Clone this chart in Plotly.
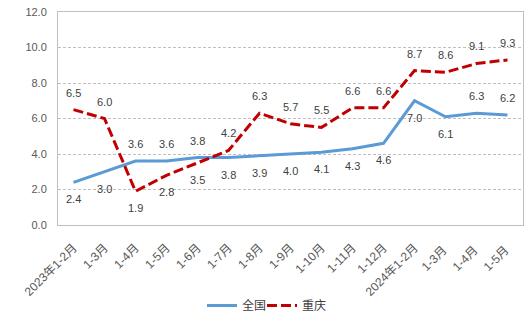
import plotly.graph_objects as go

categories = ["2023年1-2月", "1-3月", "1-4月", "1-5月", "1-6月", "1-7月", "1-8月", "1-9月",
              "1-10月", "1-11月", "1-12月", "2024年1-2月", "1-3月 ", "1-4月 ", "1-5月 "]
national = [2.4, 3.0, 3.6, 3.6, 3.8, 3.8, 3.9, 4.0, 4.1, 4.3, 4.6, 7.0, 6.1, 6.3, 6.2]
chongqing = [6.5, 6.0, 1.9, 2.8, 3.5, 4.2, 6.3, 5.7, 5.5, 6.6, 6.6, 8.7, 8.6, 9.1, 9.3]
y_ticks = [0, 2, 4, 6, 8, 10, 12]

# label placement: +1 above, -1 below
national_pos = [-1, -1, 1, 1, 1, -1, -1, -1, -1, -1, -1, -1, -1, 1, 1]
chongqing_pos = [1, 1, -1, -1, -1, 1, 1, 1, 1, 1, 1, 1, 1, 1, 1]

FONT = "Liberation Sans, Noto Sans CJK SC, sans-serif"
BLUE = "#5B9BD5"
RED = "#C00000"

fig = go.Figure()
fig.add_trace(go.Scatter(x=categories, y=national, name="全国", mode="lines",
                         line=dict(color=BLUE, width=3), legend="legend"))
fig.add_trace(go.Scatter(x=categories, y=chongqing, name="重庆", mode="lines",
                         line=dict(color=RED, width=3, dash="10px,4px"), legend="legend2"))

annotations = []
for vals, pos in ((national, national_pos), (chongqing, chongqing_pos)):
    for c, v, p in zip(categories, vals, pos):
        annotations.append(dict(x=c, y=v, xref="x", yref="y", text=f"{v:.1f}",
                                showarrow=False, yshift=17 * p,
                                font=dict(family=FONT, size=11, color="#404040")))

legend_common = dict(orientation="h", xref="container", yref="container",
                     xanchor="left", y=0.06, yanchor="middle", itemwidth=30,
                     bgcolor="rgba(0,0,0,0)",
                     font=dict(size=12, color="#404040",
                               family="Noto Sans CJK SC, sans-serif"))

fig.update_layout(
    width=532, height=325,
    margin=dict(l=58, r=9, t=12, b=100),
    paper_bgcolor="white", plot_bgcolor="white",
    font=dict(family=FONT, size=11, color="#595959"),
    annotations=annotations,
    showlegend=True,
    legend=dict(x=202 / 532, **legend_common),
    legend2=dict(x=262 / 532, **legend_common),
)
fig.update_xaxes(type="category", range=[-0.5, 14.5], showgrid=False,
                 showline=True, linecolor="#BFBFBF", linewidth=1, mirror=True,
                 tickangle=-45, ticks="", tickfont=dict(size=12, color="#595959"),
                 ticklabelstandoff=10, ticklabelshift=0, automargin=False)
fig.update_yaxes(range=[0, 12], tickvals=y_ticks, tickformat=".1f",
                 showgrid=True, gridcolor="#BFBFBF", griddash="3px,2px", gridwidth=1,
                 showline=True, linecolor="#BFBFBF", linewidth=1, mirror=True,
                 zeroline=False, ticks="", ticklabelstandoff=8,
                 tickfont=dict(size=11, color="#595959"), automargin=False)

fig.write_html("out.html")
